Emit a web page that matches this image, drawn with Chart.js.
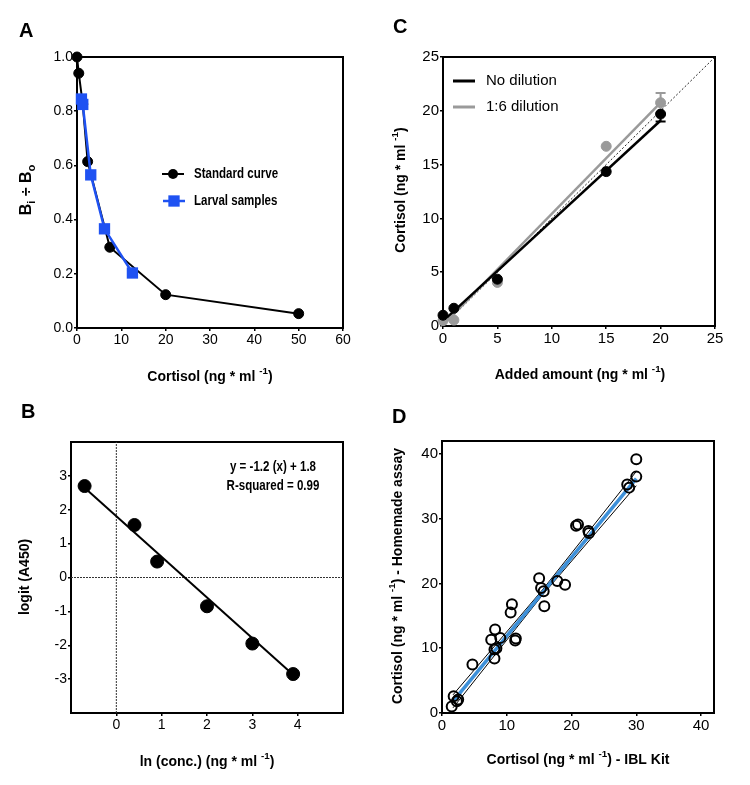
<!DOCTYPE html>
<html lang="en">
<head>
<meta charset="UTF-8">
<title>Cortisol assay validation</title>
<script src="https://cdn.jsdelivr.net/npm/chart.js"></script>
<style>
  body { margin: 0; background: #fff; }
  #wrap { position: relative; width: 750px; height: 785px; }
  canvas { position: absolute; }
  #cA { left: 0; top: 0; }
  #cC { left: 375px; top: 0; }
  #cB { left: 0; top: 390px; }
  #cD { left: 375px; top: 390px; }
</style>
</head>
<body>
<div id="wrap">
  <canvas id="cA" width="375" height="390"></canvas>
  <canvas id="cC" width="375" height="390"></canvas>
  <canvas id="cB" width="375" height="395"></canvas>
  <canvas id="cD" width="375" height="395"></canvas>
</div>
<script>
// --- panel A: standard curve vs larval samples
const stdX = [0, 0.4, 1.3, 2.4, 7.4, 20, 50];
const stdY = [1.0, 0.94, 0.826, 0.614, 0.298, 0.123, 0.053];
const larvX = [1.0, 1.3, 3.1, 6.2, 12.5];
const larvY = [0.845, 0.825, 0.565, 0.366, 0.203];
const ticksAx = [0, 10, 20, 30, 40, 50, 60];
const ticksAy = [0, 0.2, 0.4, 0.6, 0.8, 1.0];

// --- panel B: logit vs ln(conc)
const lnX = [-0.7, 0.4, 0.9, 2.0, 3.0, 3.9];
const logitY = [2.7, 1.55, 0.47, -0.85, -1.95, -2.85];
const fitBX = [-0.7, 3.9];
const fitBY = [2.65, -2.87];
const ticksBx = [0, 1, 2, 3, 4];
const ticksBy = [-3, -2, -1, 0, 1, 2, 3];

// --- panel C: spike recovery
const addedX = [0, 1, 5, 15, 20];
const noDilY = [1.0, 1.65, 4.35, 14.35, 19.7];
const dilY = [0.5, 0.55, 4.05, 16.7, 20.75];
const noDilErrLow = [0, 0, 0, 0, 0.7];
const dilErrHigh = [0, 0, 0, 0, 0.9];
const fitNoDilX = [0, 20], fitNoDilY = [0.45, 19.1];
const fitDilX = [0, 20], fitDilY = [0.1, 20.75];
const identX = [0, 25], identY = [0, 25];
const ticksC = [0, 5, 10, 15, 20, 25];

// --- panel D: homemade assay vs IBL kit
const iblX = [1.5, 1.8, 2.5, 2.3, 4.7, 7.6, 8.2, 8.1, 8.1, 8.4, 9.0, 10.8, 10.6, 11.4, 11.3,
              15.0, 15.3, 15.7, 15.8, 17.8, 19.0, 20.7, 21.0, 22.7, 22.6, 28.6, 28.9, 30.0, 30.0];
const homeY = [1.0, 2.6, 2.1, 1.8, 7.5, 11.3, 12.9, 9.8, 8.4, 10.0, 11.6, 16.8, 15.5, 11.5, 11.2,
               20.8, 19.3, 18.8, 16.5, 20.4, 19.8, 28.9, 29.1, 27.8, 28.1, 35.3, 34.8, 39.2, 36.5];
const regDX = [1.7, 30], regDY = [1.8, 36.2];
const ciUpX = [1.7, 15.5, 30], ciUpY = [2.8, 19.0, 37.3];
const ciLoX = [1.7, 15.5, 30], ciLoY = [0.8, 18.2, 35.1];
const ticksD = [0, 10, 20, 30, 40];

const FAM = "'Liberation Sans', Arial, sans-serif";
const BLUE = '#1f52f2';
const GREY = '#9a9a9a';
const SKY = '#3d90d9';
Chart.defaults.font.family = FAM;
Chart.defaults.color = '#000';

const pts = (xs, ys) => xs.map((x, i) => ({ x: x, y: ys[i] }));

function drawRich(ctx, parts, cx, cy, size, rot) {
  ctx.save();
  ctx.translate(cx, cy);
  if (rot) ctx.rotate(-Math.PI / 2);
  let w = 0;
  parts.forEach(p => {
    const s = (p.sup || p.sub) ? size * 0.7 : size;
    ctx.font = 'bold ' + s + 'px ' + FAM;
    p.w = ctx.measureText(p.t).width;
    w += p.w;
  });
  let x = -w / 2;
  ctx.textBaseline = 'middle';
  ctx.textAlign = 'left';
  ctx.fillStyle = '#000';
  parts.forEach(p => {
    const s = (p.sup || p.sub) ? size * 0.7 : size;
    ctx.font = 'bold ' + s + 'px ' + FAM;
    const dy = p.sup ? -size * 0.38 : p.sub ? size * 0.32 : 0;
    ctx.fillText(p.t, x, dy);
    x += p.w;
  });
  ctx.restore();
}

// condensed text: plain font squeezed horizontally (no narrow face installed)
function narrowText(ctx, t, x, y, font, sx, align) {
  ctx.save();
  ctx.translate(x, y);
  ctx.scale(sx, 1);
  ctx.font = font;
  ctx.fillStyle = '#000';
  ctx.textAlign = align;
  ctx.textBaseline = 'middle';
  ctx.fillText(t, 0, 0);
  ctx.restore();
}

function marker(ctx, style, cx, cy, r, fill) {
  ctx.fillStyle = fill;
  if (style === 'rect') {
    const s = r * Math.SQRT1_2;
    ctx.fillRect(cx - s, cy - s, 2 * s, 2 * s);
  } else {
    ctx.beginPath();
    ctx.arc(cx, cy, r, 0, Math.PI * 2);
    ctx.fill();
  }
}

function panelPlugin(cfg) {
  return {
    id: 'panel',
    beforeDatasetsDraw(chart) {
      const ctx = chart.ctx, a = chart.chartArea;
      ctx.save();
      ctx.strokeStyle = '#000';
      ctx.lineWidth = 2;
      ctx.strokeRect(a.left, a.top, a.right - a.left, a.bottom - a.top);
      ctx.restore();
    },
    afterDatasetsDraw(chart) {
      const ctx = chart.ctx, xs = chart.scales.x, ys = chart.scales.y;
      (cfg.errs || []).forEach(e => {
        ctx.save();
        ctx.strokeStyle = e.color;
        ctx.lineWidth = 2;
        e.xs.forEach((x, i) => {
          if (!e.d[i]) return;
          const px = xs.getPixelForValue(x);
          const p0 = ys.getPixelForValue(e.ys[i]);
          const p1 = ys.getPixelForValue(e.ys[i] + e.dir * e.d[i]);
          ctx.beginPath();
          ctx.moveTo(px, p0); ctx.lineTo(px, p1);
          ctx.moveTo(px - 5, p1); ctx.lineTo(px + 5, p1);
          ctx.stroke();
        });
        ctx.restore();
      });
    },
    afterDraw(chart) {
      const ctx = chart.ctx;
      ctx.save();
      ctx.fillStyle = '#000';
      ctx.font = 'bold 20px ' + FAM;
      ctx.textBaseline = 'alphabetic';
      ctx.fillText(cfg.letter.t, cfg.letter.x, cfg.letter.y);
      ctx.restore();
      drawRich(ctx, cfg.xTitle.parts, cfg.xTitle.x, cfg.xTitle.y, cfg.xTitle.size || 14, false);
      drawRich(ctx, cfg.yTitle.parts, cfg.yTitle.x, cfg.yTitle.y, cfg.yTitle.size || 14, true);
      (cfg.legend || []).forEach(it => {
        ctx.save();
        ctx.strokeStyle = it.color;
        ctx.lineWidth = it.lw;
        ctx.beginPath();
        ctx.moveTo(it.x1, it.y); ctx.lineTo(it.x2, it.y);
        ctx.stroke();
        if (it.style) marker(ctx, it.style, (it.x1 + it.x2) / 2, it.y, it.r, it.color);
        ctx.restore();
        narrowText(ctx, it.label, it.tx, it.y, it.font, it.sx || 1, 'left');
      });
      (cfg.notes || []).forEach(n => narrowText(ctx, n.t, n.x, n.y, n.font, n.sx, 'center'));
    }
  };
}

function axis(min, max, ticks, fmt, fs, fit) {
  return {
    type: 'linear', min: min, max: max,
    afterBuildTicks: s => { s.ticks = ticks.map(v => ({ value: v })); },
    afterFit: fit,
    grid: { drawOnChartArea: false, color: '#000', lineWidth: 1.5, tickLength: 3 },
    border: { display: false },
    ticks: { color: '#000', font: { size: fs }, padding: 1, maxRotation: 0, autoSkip: false, callback: fmt }
  };
}

function makeChart(id, cfg) {
  const a = cfg.area, W = 375, H = cfg.H;
  return new Chart(document.getElementById(id), {
    type: 'scatter',
    data: { datasets: cfg.datasets },
    options: {
      responsive: false, animation: false, events: [],
      layout: { padding: { left: 0, top: a.t, right: W - a.r, bottom: 0 } },
      plugins: { legend: { display: false }, tooltip: { enabled: false } },
      scales: {
        x: axis(cfg.x.min, cfg.x.max, cfg.x.ticks, cfg.x.fmt, cfg.fs, s => { s.height = H - a.b; }),
        y: axis(cfg.y.min, cfg.y.max, cfg.y.ticks, cfg.y.fmt, cfg.fs, s => { s.width = a.l; })
      }
    },
    plugins: [panelPlugin(cfg)]
  });
}

const num = v => String(v);
const mlUnit = (pre, post) => [{ t: pre + ' (ng * ml ' }, { t: '-1', sup: true }, { t: ')' + (post || '') }];

// Panel A
makeChart('cA', {
  H: 390, area: { l: 77, t: 57, r: 343, b: 328 }, fs: 14,
  x: { min: 0, max: 60, ticks: ticksAx, fmt: num },
  y: { min: 0, max: 1, ticks: ticksAy, fmt: v => Number(v).toFixed(1) },
  datasets: [
    { data: pts(larvX, larvY), showLine: true, borderColor: BLUE, backgroundColor: BLUE, borderWidth: 2.5,
      pointStyle: 'rect', pointRadius: 8, pointBorderWidth: 0, clip: false },
    { data: pts(stdX, stdY), showLine: true, borderColor: '#000', backgroundColor: '#000', borderWidth: 2,
      pointRadius: 5, pointBorderWidth: 1, clip: false }
  ],
  letter: { t: 'A', x: 19, y: 37 },
  xTitle: { parts: mlUnit('Cortisol'), x: 210, y: 377 },
  yTitle: { parts: [{ t: 'B' }, { t: 'i', sub: true }, { t: ' ÷ B' }, { t: 'o', sub: true }], x: 27, y: 190, size: 16 },
  legend: [
    { label: 'Standard curve', color: '#000', lw: 2, style: 'circle', r: 5, x1: 162, x2: 184, y: 174, tx: 194, font: 'bold 15px ' + FAM, sx: 0.77 },
    { label: 'Larval samples', color: BLUE, lw: 2.5, style: 'rect', r: 8, x1: 163, x2: 185, y: 201, tx: 194, font: 'bold 15px ' + FAM, sx: 0.77 }
  ]
});

// Panel C
makeChart('cC', {
  H: 390, area: { l: 68, t: 57, r: 340, b: 326 }, fs: 15,
  x: { min: 0, max: 25, ticks: ticksC, fmt: num },
  y: { min: 0, max: 25, ticks: ticksC, fmt: num },
  datasets: [
    { data: pts(addedX, noDilY), borderColor: '#000', backgroundColor: '#000', pointRadius: 5, clip: false },
    { data: pts(addedX, dilY), borderColor: GREY, backgroundColor: GREY, pointRadius: 5, clip: false },
    { data: pts(fitNoDilX, fitNoDilY), showLine: true, borderColor: '#000', borderWidth: 2.5, pointRadius: 0 },
    { data: pts(fitDilX, fitDilY), showLine: true, borderColor: GREY, borderWidth: 2.5, pointRadius: 0 },
    { data: pts(identX, identY), showLine: true, borderColor: '#222', borderWidth: 1, borderDash: [2, 2], pointRadius: 0 }
  ],
  errs: [
    { xs: addedX, ys: noDilY, d: noDilErrLow, dir: -1, color: '#000' },
    { xs: addedX, ys: dilY, d: dilErrHigh, dir: 1, color: GREY }
  ],
  letter: { t: 'C', x: 18, y: 33 },
  xTitle: { parts: mlUnit('Added amount'), x: 205, y: 375 },
  yTitle: { parts: mlUnit('Cortisol'), x: 26, y: 190 },
  legend: [
    { label: 'No dilution', color: '#000', lw: 3, x1: 78, x2: 100, y: 81, tx: 111, font: '15px ' + FAM },
    { label: '1:6 dilution', color: GREY, lw: 3, x1: 78, x2: 100, y: 107, tx: 111, font: '15px ' + FAM }
  ]
});

// Panel B
makeChart('cB', {
  H: 395, area: { l: 71, t: 52, r: 343, b: 323 }, fs: 14,
  x: { min: -1, max: 5, ticks: ticksBx, fmt: num },
  y: { min: -4, max: 4, ticks: ticksBy, fmt: num },
  datasets: [
    { data: pts(lnX, logitY), borderColor: '#000', backgroundColor: '#000', pointRadius: 6.5, clip: false },
    { data: pts(fitBX, fitBY), showLine: true, borderColor: '#000', borderWidth: 2, pointRadius: 0 },
    { data: [{ x: 0, y: -4 }, { x: 0, y: 4 }], showLine: true, borderColor: '#333', borderWidth: 1, borderDash: [2, 1], pointRadius: 0 },
    { data: [{ x: -1, y: 0 }, { x: 5, y: 0 }], showLine: true, borderColor: '#333', borderWidth: 1, borderDash: [2, 1], pointRadius: 0 }
  ],
  letter: { t: 'B', x: 21, y: 28 },
  xTitle: { parts: mlUnit('ln (conc.)'), x: 207, y: 372 },
  yTitle: { parts: [{ t: 'logit (A450)' }], x: 25, y: 187 },
  notes: [
    { t: 'y = -1.2 (x) + 1.8', x: 273, y: 77, font: 'bold 15px ' + FAM, sx: 0.77 },
    { t: 'R-squared = 0.99', x: 273, y: 96, font: 'bold 15px ' + FAM, sx: 0.77 }
  ]
});

// Panel D
makeChart('cD', {
  H: 395, area: { l: 67, t: 51, r: 339, b: 323 }, fs: 15,
  x: { min: 0, max: 42, ticks: ticksD, fmt: num },
  y: { min: 0, max: 42, ticks: ticksD, fmt: num },
  datasets: [
    { data: pts(iblX, homeY), borderColor: '#000', backgroundColor: 'rgba(255,255,255,0)', pointRadius: 5, pointBorderWidth: 2, clip: false },
    { data: pts(regDX, regDY), showLine: true, borderColor: SKY, borderWidth: 3.5, pointRadius: 0 },
    { data: pts(ciUpX, ciUpY), showLine: true, borderColor: '#000', borderWidth: 1, pointRadius: 0 },
    { data: pts(ciLoX, ciLoY), showLine: true, borderColor: '#000', borderWidth: 1, pointRadius: 0 }
  ],
  letter: { t: 'D', x: 17, y: 33 },
  xTitle: { parts: mlUnit('Cortisol', ' - IBL Kit'), x: 203, y: 370 },
  yTitle: { parts: mlUnit('Cortisol', ' - Homemade assay'), x: 23, y: 186 }
});
</script>
</body>
</html>
